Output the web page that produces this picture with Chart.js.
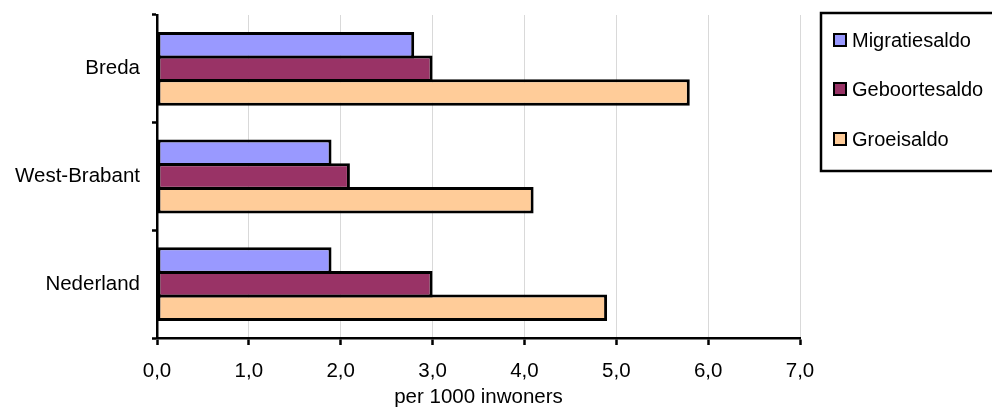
<!DOCTYPE html>
<html>
<head>
<meta charset="utf-8">
<script src="https://cdn.jsdelivr.net/npm/chart.js@4/dist/chart.umd.min.js"></script>
<style>
  html, body { margin: 0; padding: 0; background: #fff; }
  #wrap { width: 992px; height: 407px; position: relative; }
</style>
</head>
<body>
<div id="wrap"><canvas id="chart"></canvas></div>
<script>
const categories = ['Breda', 'West-Brabant', 'Nederland'];
const migratie = [2.8, 1.9, 1.9];
const geboorte = [3.0, 2.1, 3.0];
const groei = [5.8, 4.1, 4.9];
const seriesNames = ['Migratiesaldo', 'Geboortesaldo', 'Groeisaldo'];
const seriesColors = ['#9999ff', '#993366', '#ffcc99'];
const axisTitle = 'per 1000 inwoners';

const font = "'Liberation Sans', Arial, sans-serif";
const fontSize = 20.5;

// legend drawn by hand: Excel-style box with border
const boxLegend = {
  id: 'boxLegend',
  afterDraw(chart) {
    const ctx = chart.ctx;
    ctx.save();
    ctx.strokeStyle = '#000';
    ctx.lineWidth = 2.5;
    ctx.strokeRect(821, 13, 180, 158);
    ctx.font = '20px ' + font;
    ctx.textBaseline = 'middle';
    const ys = [40, 89, 139];
    seriesNames.forEach((name, i) => {
      ctx.fillStyle = seriesColors[i];
      ctx.fillRect(834, ys[i] - 6, 12, 12);
      ctx.lineWidth = 2;
      ctx.strokeRect(834, ys[i] - 6, 12, 12);
      ctx.fillStyle = '#000';
      ctx.fillText(name, 852, ys[i] + 1);
    });
    ctx.restore();
  }
};

const datasets = [migratie, geboorte, groei].map((values, i) => ({
  label: seriesNames[i],
  data: values,
  backgroundColor: seriesColors[i],
  borderColor: '#000',
  borderWidth: 3,
  borderSkipped: false,
  barPercentage: 1.12,
  categoryPercentage: 0.66,
}));

new Chart(document.getElementById('chart'), {
  type: 'bar',
  data: { labels: categories, datasets },
  plugins: [boxLegend],
  options: {
    indexAxis: 'y',
    responsive: true,
    maintainAspectRatio: false,
    animation: false,
    layout: { padding: { top: 15, right: 192, left: 0, bottom: 0 } },
    plugins: { legend: { display: false }, tooltip: { enabled: false } },
    scales: {
      x: {
        min: 0,
        max: 7,
        ticks: {
          stepSize: 1,
          color: '#000',
          font: { family: font, size: fontSize },
          padding: 14,
          callback: (v) => v.toFixed(1).replace('.', ','),
        },
        grid: { color: '#d9d9d9', lineWidth: 1, tickLength: 7, tickColor: '#000', tickWidth: 2.5 },
        border: { color: '#000', width: 2.5 },
        title: {
          display: true,
          text: axisTitle,
          color: '#000',
          font: { family: font, size: fontSize },
          padding: { top: 0, bottom: -3 },
        },
        afterFit: (scale) => { scale.height = 69; },
      },
      y: {
        ticks: { color: '#000', font: { family: font, size: fontSize }, padding: 12 },
        grid: { offset: true, drawOnChartArea: false, tickLength: 5, tickColor: '#000', tickWidth: 2.5 },
        border: { color: '#000', width: 2.5 },
        afterFit: (scale) => {
          scale.width = 157;
          scale.paddingTop = 0;
          scale.paddingBottom = 0;
        },
      },
    },
  },
});
</script>
</body>
</html>
